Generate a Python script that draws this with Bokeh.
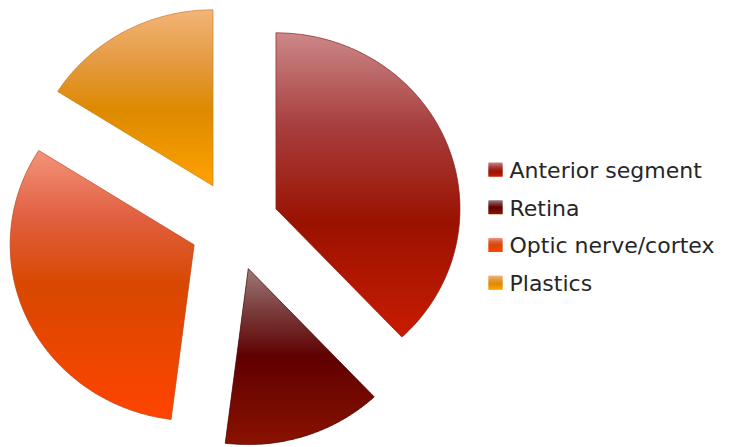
import math
from bokeh.plotting import figure
from bokeh.models import Range1d, ColumnDataSource
from bokeh.core.properties import value
from bokeh.embed import file_html
from bokeh.resources import INLINE

# ---- data ----
categories = ["Anterior segment", "Retina", "Optic nerve/cortex", "Plastics"]
values = [38, 14, 32, 16]

# gradient stops (fraction, colour) per slice, top -> bottom
gradients = [
    [(0.0, "#cc8888"), (0.3, "#a84040"), (0.62, "#9a1200"), (1.0, "#c81c00")],
    [(0.0, "#9c7a7a"), (0.25, "#7a3a3a"), (0.5, "#600000"), (1.0, "#8a1200")],
    [(0.0, "#f4937a"), (0.25, "#e06040"), (0.5, "#d84800"), (1.0, "#ff4400")],
    [(0.0, "#f4b478"), (0.3, "#e49a40"), (0.57, "#dd8a00"), (1.0, "#ffa200")],
]
edge_colors = ["#8c2a2a", "#4a1010", "#c0502c", "#c88030"]

# ---- layout (pixels) ----
W, H = 731, 447
CX, CY = 234.0, 225.0
RX, RY = 184.0, 176.0
EXPLODE_X, EXPLODE_Y = 44.6, 45.3


def hex2rgb(h):
    h = h.lstrip("#")
    return tuple(int(h[i:i + 2], 16) for i in (0, 2, 4))


def grad_color(stops, t):
    t = min(max(t, 0.0), 1.0)
    for (t0, c0), (t1, c1) in zip(stops[:-1], stops[1:]):
        if t <= t1:
            f = 0 if t1 == t0 else (t - t0) / (t1 - t0)
            a, b = hex2rgb(c0), hex2rgb(c1)
            return "#%02x%02x%02x" % tuple(int(round(a[i] + (b[i] - a[i]) * f)) for i in range(3))
    return stops[-1][1]


def clip(poly, y, keep_ge):
    out = []
    n = len(poly)
    for i in range(n):
        P = poly[i - 1]
        Q = poly[i]
        inP = P[1] >= y if keep_ge else P[1] <= y
        inQ = Q[1] >= y if keep_ge else Q[1] <= y
        if inQ:
            if not inP:
                f = (y - P[1]) / (Q[1] - P[1])
                out.append((P[0] + f * (Q[0] - P[0]), y))
            out.append(Q)
        elif inP:
            f = (y - P[1]) / (Q[1] - P[1])
            out.append((P[0] + f * (Q[0] - P[0]), y))
    return out


def strips(poly, stops, step=2.0):
    ys = [p[1] for p in poly]
    y0, y1 = min(ys), max(ys)
    xs_out, ys_out, cols = [], [], []
    y = y0
    while y < y1:
        band = clip(poly, y, True)
        band = clip(band, min(y + step + 0.9, y1), False) if band else band
        if len(band) >= 3:
            t = (y + step / 2 - y0) / (y1 - y0)
            xs_out.append([p[0] for p in band])
            ys_out.append([p[1] for p in band])
            cols.append(grad_color(stops, t))
        y += step
    return xs_out, ys_out, cols


p = figure(width=W, height=H, x_range=Range1d(0, W), y_range=Range1d(H, 0),
           x_axis_type=None, y_axis_type=None, toolbar_location=None,
           output_backend="svg", min_border=0)
p.grid.visible = False
p.outline_line_color = None
p.background_fill_color = "white"

total = float(sum(values))
start = 0.0
all_x, all_y, all_c = [], [], []
outlines_x, outlines_y = [], []
for i, v in enumerate(values):
    span = 360.0 * v / total
    end = start + span
    mid = math.radians(start + span / 2)
    vx = CX + EXPLODE_X * math.sin(mid)
    vy = CY - EXPLODE_Y * math.cos(mid)
    poly = [(vx, vy)]
    nseg = max(int(span), 4)
    for k in range(nseg + 1):
        a = math.radians(start + span * k / nseg)
        poly.append((vx + RX * math.sin(a), vy - RY * math.cos(a)))
    sx, sy, sc = strips(poly, gradients[i])
    all_x += sx
    all_y += sy
    all_c += sc
    outlines_x.append([q[0] for q in poly])
    outlines_y.append([q[1] for q in poly])
    start = end

# legend squares
LEG_X, LEG_Y0, LEG_DY, SQ = 488.0, 169.0, 37.7, 14.0
for i, name in enumerate(categories):
    cy = LEG_Y0 + i * LEG_DY
    sq = [(LEG_X, cy - SQ / 2), (LEG_X + SQ, cy - SQ / 2), (LEG_X + SQ, cy + SQ / 2), (LEG_X, cy + SQ / 2)]
    sx, sy, sc = strips(sq, gradients[i], step=1.0)
    all_x += sx
    all_y += sy
    all_c += sc

src = ColumnDataSource(dict(xs=all_x, ys=all_y, color=all_c))
p.patches("xs", "ys", source=src, fill_color="color", line_color=None)

p.patches(outlines_x, outlines_y, fill_alpha=0, line_color=edge_colors, line_width=1, line_alpha=0.7)

p.text(x=[LEG_X + SQ + 7] * len(categories),
       y=[LEG_Y0 + i * LEG_DY + 1 for i in range(len(categories))],
       text=categories, text_font=value("DejaVu Sans"), text_font_size="22px",
       text_baseline="middle", text_align="left", text_color="#262626")

open("out.html", "w").write(file_html(p, INLINE))
